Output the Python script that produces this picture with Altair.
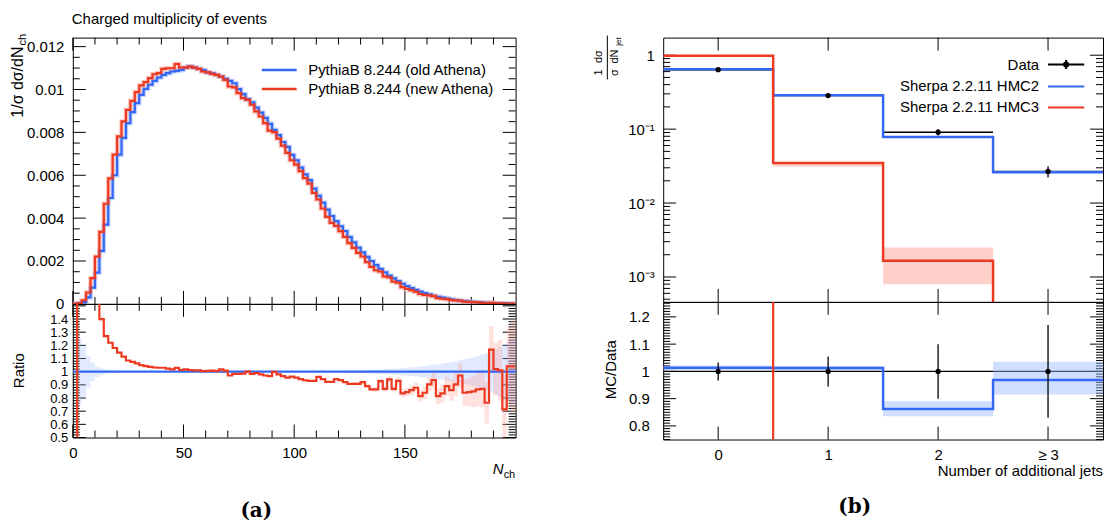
import altair as alt
import pandas as pd

FONT = "Liberation Sans"
BLUE = "#3568f2"
RED = "#ec3a22"
BLUE_L = "#9ab8ff"
RED_L = "#ffa093"

# ---------------- panel (a): charged multiplicity ----------------
LBL_OLD = "PythiaB 8.244 (old Athena)"
LBL_NEW = "PythiaB 8.244 (new Athena)"
nch_edges = list(range(0, 202, 2))  # 100 bins of width 2

old_athena = [
    0.0, 0.00002, 0.00008, 0.0003, 0.00076, 0.00146, 0.00247, 0.0037, 0.00494, 0.0060,
    0.00696, 0.00774, 0.00843, 0.00894, 0.00936, 0.00975, 0.01003, 0.01022, 0.0104, 0.01056,
    0.01068, 0.01076, 0.01084, 0.01087, 0.01091, 0.01102, 0.01107, 0.01102, 0.01096, 0.0109,
    0.0108, 0.01075, 0.01068, 0.0106, 0.0105, 0.0104, 0.01029, 0.01002, 0.00978, 0.00955,
    0.0094, 0.00915, 0.00892, 0.00868, 0.0084, 0.00812, 0.00787, 0.00755, 0.00732, 0.00695,
    0.0067, 0.00636, 0.00604, 0.00577, 0.00538, 0.00504, 0.00472, 0.0044, 0.0041, 0.00386,
    0.00362, 0.0034, 0.00312, 0.00287, 0.00262, 0.0024, 0.00219, 0.002, 0.00181, 0.00163,
    0.00147, 0.00132, 0.00119, 0.00106, 0.00094, 0.00083, 0.00074, 0.00065, 0.00057, 0.0005,
    0.00044, 0.00038, 0.00033, 0.00029, 0.00025, 0.00021, 0.00018, 0.00015, 0.00013, 0.00011,
    0.00009, 0.00008, 0.00006, 0.00005, 0.00004, 0.00003, 0.00003, 0.00002, 0.00001, 0.00001]

new_athena = [
    0.0, 0.00003, 0.00017, 0.00053, 0.0012, 0.0022, 0.00336, 0.00467, 0.00585, 0.00696,
    0.00781, 0.00851, 0.00905, 0.00947, 0.00988, 0.01019, 0.01034, 0.01053, 0.01071, 0.01076,
    0.01096, 0.01099, 0.01099, 0.01119, 0.01102, 0.01102, 0.01107, 0.01102, 0.01096, 0.01084,
    0.0108, 0.01073, 0.01068, 0.0106, 0.01045, 0.01014, 0.0101, 0.00983, 0.0096, 0.00952,
    0.00929, 0.00898, 0.00874, 0.00843, 0.00808, 0.00801, 0.00771, 0.00738, 0.00704, 0.0067,
    0.0065, 0.00619, 0.00587, 0.00561, 0.00518, 0.00487, 0.00445, 0.00406, 0.00378, 0.00364,
    0.00339, 0.00313, 0.00283, 0.00261, 0.00238, 0.00221, 0.00195, 0.00173, 0.00157, 0.00151,
    0.00128, 0.00124, 0.00104, 0.00099, 0.00078, 0.0007, 0.00064, 0.00057, 0.00046, 0.00042,
    0.0004, 0.00036, 0.00027, 0.00024, 0.00022, 0.00018, 0.00016, 0.00015, 0.00011, 0.00009,
    0.00008, 0.00007, 0.00005, 0.00004, 0.00005, 0.00003, 0.00003, 0.00001, 0.00001, 0.00001]

ratio_old = [1.0] * 100
ratio_new = [
    0.0, 3.0, 3.0, 2.3, 1.9, 1.6, 1.40, 1.27, 1.22, 1.18,
    1.145, 1.115, 1.085, 1.075, 1.063, 1.05, 1.042, 1.037, 1.032, 1.03,
    1.03, 1.024, 1.017, 1.029, 1.013, 1.017, 1.013, 1.01, 1.01, 1.005,
    1.006, 1.008, 1.005, 1.017, 1.008, 0.971, 0.983, 0.983, 0.985, 1.0,
    0.983, 0.99, 0.979, 0.971, 0.967, 0.998, 0.979, 0.967, 0.955, 0.962,
    0.955, 0.943, 0.935, 0.93, 0.93, 0.96, 0.943, 0.923, 0.923, 0.943,
    0.936, 0.921, 0.908, 0.908, 0.908, 0.921, 0.89, 0.866, 0.866, 0.928,
    0.87, 0.941, 0.87, 0.93, 0.835, 0.845, 0.86, 0.878, 0.815, 0.84,
    0.903, 0.936, 0.815, 0.835, 0.89, 0.86, 0.903, 0.971, 0.84, 0.845,
    0.85, 0.866, 0.87, 0.764, 1.168, 1.02, 1.01, 0.714, 1.04, 1.04]

band_old = [
    0.0, 0.25, 0.2, 0.12, 0.07, 0.04, 0.025, 0.015, 0.01, 0.008,
    0.006, 0.005, 0.004, 0.004, 0.004, 0.004, 0.004, 0.004, 0.004, 0.004,
    0.004, 0.004, 0.004, 0.004, 0.004, 0.004, 0.004, 0.004, 0.004, 0.004,
    0.004, 0.004, 0.004, 0.004, 0.004, 0.004, 0.004, 0.004, 0.004, 0.004,
    0.004, 0.004, 0.004, 0.004, 0.004, 0.004, 0.004, 0.004, 0.004, 0.004,
    0.004, 0.004, 0.004, 0.004, 0.004, 0.005, 0.005, 0.005, 0.005, 0.005,
    0.006, 0.007, 0.008, 0.009, 0.01, 0.011, 0.012, 0.014, 0.015, 0.017,
    0.019, 0.021, 0.023, 0.025, 0.028, 0.03, 0.033, 0.036, 0.04, 0.044,
    0.048, 0.052, 0.057, 0.062, 0.068, 0.074, 0.08, 0.087, 0.095, 0.1,
    0.11, 0.12, 0.13, 0.14, 0.15, 0.17, 0.19, 0.21, 0.23, 0.25]

band_new = [
    0.0, 0.0, 0.0, 0.0, 0.0, 0.0, 0.02, 0.015, 0.01, 0.008,
    0.006, 0.005, 0.004, 0.004, 0.004, 0.004, 0.004, 0.004, 0.004, 0.004,
    0.004, 0.004, 0.004, 0.004, 0.004, 0.004, 0.004, 0.004, 0.004, 0.004,
    0.004, 0.004, 0.004, 0.004, 0.004, 0.004, 0.004, 0.004, 0.004, 0.004,
    0.004, 0.004, 0.004, 0.004, 0.004, 0.004, 0.004, 0.004, 0.004, 0.004,
    0.005, 0.005, 0.005, 0.005, 0.005, 0.005, 0.006, 0.006, 0.006, 0.007,
    0.008, 0.009, 0.01, 0.011, 0.012, 0.013, 0.014, 0.016, 0.018, 0.02,
    0.022, 0.024, 0.026, 0.028, 0.031, 0.034, 0.037, 0.04, 0.044, 0.048,
    0.052, 0.057, 0.062, 0.068, 0.074, 0.08, 0.087, 0.095, 0.1, 0.11,
    0.12, 0.13, 0.14, 0.16, 0.18, 0.2, 0.23, 0.26, 0.3, 0.35]

# ---------------- panel (b): number of additional jets ----------------
LBL_DATA = "Data"
LBL_H2 = "Sherpa 2.2.11 HMC2"
LBL_H3 = "Sherpa 2.2.11 HMC3"
jets = [0, 1, 2, 3]
jet_edges = [-0.5, 0.5, 1.5, 2.5, 3.5]
data_b = [0.636, 0.284, 0.0908, 0.0268]
data_relerr = [0.033, 0.055, 0.10, 0.17]
hmc2 = [0.645, 0.288, 0.0783, 0.0262]
hmc2_lo = [0.640, 0.285, 0.0770, 0.0255]
hmc2_hi = [0.650, 0.291, 0.0796, 0.0270]
hmc3 = [0.98, 0.0347, 0.00166, 0.00001]
hmc3_lo = [0.97, 0.0312, 0.0008, 0.00001]
hmc3_hi = [0.99, 0.0350, 0.0025, 0.00001]
hmc2_ratio = [1.013, 1.012, 0.862, 0.968]
hmc2_ratio_lo = [1.004, 1.004, 0.835, 0.915]
hmc2_ratio_hi = [1.021, 1.020, 0.890, 1.035]
hmc3_ratio = [1.54, 0.122, 0.0183, 0.0]

# ---------------- layout ----------------
WA, HA, HAR = 444, 267, 134
WB, HB, HBR = 441, 265, 138

XA_DOM = [0, 200]
YA_DOM = [0, 0.01242]
YAR_DOM = [0.5, 1.515]
XB_DOM = [-0.5, 3.5]
YB_DOM = [10 ** -3.337, 10 ** 0.238]
YBR_DOM = [0.75, 1.255]

xa_major = [0, 50, 100, 150]
xa_minor = [v for v in range(0, 201, 10) if v % 50]
ya_major = [0, 0.002, 0.004, 0.006, 0.008, 0.010, 0.012]
ya_minor = [round(i * 0.0005, 5) for i in range(25) if i % 4]
yar_major = [0.5, 0.6, 0.7, 0.8, 0.9, 1.0, 1.1, 1.2, 1.3, 1.4, 1.5]
yar_minor = [round(0.5 + i * 0.02, 3) for i in range(51) if i % 5]
xb_major = [0, 1, 2, 3]
yb_major = [0.001, 0.01, 0.1, 1.0]
yb_minor = [m * d for d in (0.0001, 0.001, 0.01, 0.1) for m in range(2, 10)
            if YB_DOM[0] <= m * d <= YB_DOM[1]]
ybr_major = [0.8, 0.9, 1.0, 1.1, 1.2]
ybr_minor = [round(0.75 + i * 0.01, 3) for i in range(51)
             if round(0.75 + i * 0.01, 3) not in ybr_major]

xs_a = alt.Scale(domain=XA_DOM, nice=False, zero=False)
ys_a = alt.Scale(domain=YA_DOM, nice=False, zero=False)
ys_ar = alt.Scale(domain=YAR_DOM, nice=False, zero=False)
xs_b = alt.Scale(domain=XB_DOM, nice=False, zero=False)
ys_b = alt.Scale(type="log", domain=YB_DOM, nice=False)
ys_br = alt.Scale(domain=YBR_DOM, nice=False, zero=False)


def lab_ax(orient, values, pad, fmt=None, expr=None, size=15):
    kw = dict(orient=orient, values=values, ticks=False, tickSize=0, domain=False,
              grid=False, title=None, labelFont=FONT, labelFontSize=size,
              labelColor="#000", labelPadding=pad, labelOverlap=False,
              labelFlush=False, labelBound=False)
    if fmt:
        kw["format"] = fmt
    if expr:
        kw["labelExpr"] = expr
    return alt.Axis(**kw)


def tick_rules(xs, ys, W, H, xvals, yvals, size):
    out = []
    if xvals:
        dfx = pd.DataFrame({"v": xvals})
        for y0, y1 in ((H, H - size), (0, size)):
            out.append(alt.Chart(dfx).mark_rule(color="#000", strokeWidth=1).encode(
                x=alt.X("v:Q", scale=xs, axis=None), y=alt.value(y0), y2=alt.value(y1)))
    if yvals:
        dfy = pd.DataFrame({"v": yvals})
        for x0, x1 in ((0, size), (W - size, W)):
            out.append(alt.Chart(dfy).mark_rule(color="#000", strokeWidth=1).encode(
                y=alt.Y("v:Q", scale=ys, axis=None), x=alt.value(x0), x2=alt.value(x1)))
    return out


def frame(xs, ys, xdom, ydom, W, H, xmaj, xmin, ymaj, ymin, xlab, ylab):
    base = pd.DataFrame({"x": [xdom[0]], "y": [ydom[0]]})
    carrier = alt.Chart(base).mark_point(opacity=0).encode(
        x=alt.X("x:Q", scale=xs, axis=xlab), y=alt.Y("y:Q", scale=ys, axis=ylab))
    return [carrier] + tick_rules(xs, ys, W, H, xmaj, ymaj, 13) + \
        tick_rules(xs, ys, W, H, xmin, ymin, 7)


def txt(s, x, y, size=15, angle=0, align="center", baseline="middle",
        font=FONT, style="normal", weight="normal", opacity=1.0):
    return alt.Chart(pd.DataFrame({"t": [s]})).mark_text(
        font=font, fontSize=size, angle=angle, align=align, baseline=baseline,
        fontStyle=style, fontWeight=weight, color="#000", opacity=opacity).encode(
        text="t:N", x=alt.value(x), y=alt.value(y))


def ext(v):
    return list(v) + [v[-1]]


def hist_line(df, xs, ys, color=None, width=2.2, opacity=1.0, legend=None, cscale=None):
    enc = dict(x=alt.X("x:Q", scale=xs, axis=None), y=alt.Y("y:Q", scale=ys, axis=None))
    if cscale is not None:
        enc["color"] = alt.Color("s:N", scale=cscale, legend=legend)
    mk = dict(interpolate="step-after", strokeWidth=width, clip=True, opacity=opacity)
    if color:
        mk["color"] = color
    return alt.Chart(df).mark_line(**mk).encode(**enc)


def band(df, xs, ys, lo, hi, color, opacity=0.35):
    return alt.Chart(df).mark_area(interpolate="step-after", clip=True, color=color,
                                   opacity=opacity).encode(
        x=alt.X("x:Q", scale=xs, axis=None),
        y=alt.Y(f"{lo}:Q", scale=ys, axis=None), y2=f"{hi}:Q")


# ----- (a) main -----
leg_a = alt.Legend(title=None, orient="none", legendX=188, legendY=25,
                   symbolType="stroke", symbolSize=1225, symbolStrokeWidth=2.5,
                   clipHeight=15, rowPadding=3, labelOffset=10, labelFont=FONT,
                   labelFontSize=15, labelColor="#000", labelLimit=400, padding=0)
col_a_scale = alt.Scale(domain=[LBL_OLD, LBL_NEW], range=[BLUE, RED])
df_old = pd.DataFrame({"x": nch_edges, "y": ext(old_athena), "s": LBL_OLD})
df_new = pd.DataFrame({"x": nch_edges, "y": ext(new_athena), "s": LBL_NEW})

a_main = alt.layer(
    *frame(xs_a, ys_a, XA_DOM, YA_DOM, WA, HA, xa_major, xa_minor, ya_major, ya_minor,
           None, lab_ax("left", ya_major, 9, fmt=".3~f")),
    hist_line(df_old, xs_a, ys_a, color=BLUE_L, width=4.5, opacity=0.6),
    hist_line(df_new, xs_a, ys_a, color=RED_L, width=4.5, opacity=0.6),
    hist_line(df_old, xs_a, ys_a, legend=leg_a, cscale=col_a_scale),
    hist_line(df_new, xs_a, ys_a, legend=leg_a, cscale=col_a_scale),
    txt("Charged multiplicity of events", -1, -14, align="left", baseline="alphabetic"),
    txt("1/σ dσ/dN", -55, 9, size=16, angle=270, align="right"),
    txt("ch", -50, 8, size=11, angle=270, align="left"),
).resolve_axis(x="independent", y="independent").properties(width=WA, height=HA)

# ----- (a) ratio -----
df_ra = pd.DataFrame({
    "x": nch_edges,
    "lo_old": [r - b for r, b in zip(ext(ratio_old), ext(band_old))],
    "hi_old": [r + b for r, b in zip(ext(ratio_old), ext(band_old))],
    "lo_new": [r - b for r, b in zip(ext(ratio_new), ext(band_new))],
    "hi_new": [r + b for r, b in zip(ext(ratio_new), ext(band_new))],
})
df_rold = pd.DataFrame({"x": nch_edges, "y": ext(ratio_old)})
df_rnew = pd.DataFrame({"x": nch_edges, "y": ext(ratio_new)})

a_ratio = alt.layer(
    *frame(xs_a, ys_ar, XA_DOM, YAR_DOM, WA, HAR, xa_major, xa_minor, yar_major, yar_minor,
           lab_ax("bottom", [0, 50, 100, 150], 8, fmt="d"),
           lab_ax("left", yar_major[:-1], 5, fmt=".1~f", size=13)),
    band(df_ra, xs_a, ys_ar, "lo_old", "hi_old", BLUE_L, 0.3),
    band(df_ra, xs_a, ys_ar, "lo_new", "hi_new", RED_L, 0.3),
    hist_line(df_rold, xs_a, ys_ar, color=BLUE, width=2.2),
    hist_line(df_rnew, xs_a, ys_ar, color=RED, width=2.2),
    txt("Ratio", -54, 67, angle=270),
    txt("N", 421, 171, style="italic", align="left", baseline="alphabetic"),
    txt("ch", 432, 175, size=11, align="left", baseline="alphabetic"),
    txt("(a)", 184, 214, size=20, font="DejaVu Serif", weight="bold", baseline="alphabetic"),
).resolve_axis(x="independent", y="independent").properties(width=WA, height=HAR)

# ----- (b) main -----
DATA_PATH = ("M-2.6,0H2.6M0,-0.65V0.65M-0.3,0A0.3,0.3,0,1,1,0.3,0"
             "A0.3,0.3,0,1,1,-0.3,0Z")
LINE_PATH = "M-2.6,0H2.6"
leg_b = alt.Legend(title=None, orient="none", legendX=396, legendY=19,
                   symbolSize=196, rowPadding=5, labelAlign="right",
                   labelOffset={"expr": "-35"}, labelFont=FONT, labelFontSize=15,
                   labelColor="#000", labelLimit=400, symbolStrokeWidth=2, padding=0)
lab_b = [LBL_DATA, LBL_H2, LBL_H3]

df_h2 = pd.DataFrame({"x": jet_edges, "y": ext(hmc2)})
df_h3 = pd.DataFrame({"x": jet_edges, "y": ext(hmc3)})
df_bb = pd.DataFrame({"x": jet_edges, "lo2": ext(hmc2_lo), "hi2": ext(hmc2_hi),
                      "lo3": ext(hmc3_lo), "hi3": ext(hmc3_hi)})
df_data = pd.DataFrame({
    "x": jets, "x0": jet_edges[:-1], "x1": jet_edges[1:], "y": data_b,
    "lo": [v * (1 - e) for v, e in zip(data_b, data_relerr)],
    "hi": [v * (1 + e) for v, e in zip(data_b, data_relerr)]})
df_leg = pd.DataFrame({"x": [10, 10, 10], "y": [0.1, 0.1, 0.1], "sb": lab_b})


def data_hbars(df, xs, ys):
    return alt.Chart(df).mark_rule(color="#000", strokeWidth=1.3, clip=True).encode(
        x=alt.X("x0:Q", scale=xs, axis=None), x2="x1:Q",
        y=alt.Y("y:Q", scale=ys, axis=None))


def data_points(df, xs, ys):
    return [
        alt.Chart(df).mark_rule(color="#000", strokeWidth=1.3, clip=True).encode(
            x=alt.X("x:Q", scale=xs, axis=None),
            y=alt.Y("lo:Q", scale=ys, axis=None), y2="hi:Q"),
        alt.Chart(df).mark_circle(color="#000", size=28, opacity=1, clip=True).encode(
            x=alt.X("x:Q", scale=xs, axis=None), y=alt.Y("y:Q", scale=ys, axis=None)),
    ]


b_main = alt.layer(
    *frame(xs_b, ys_b, XB_DOM, YB_DOM, WB, HB, xb_major, [], yb_major, yb_minor,
           None, lab_ax("left", yb_major, 9,
                        expr="datum.value > 0.5 ? '1' : datum.value > 0.05 ? '10⁻¹' : "
                             "datum.value > 0.005 ? '10⁻²' : '10⁻³'")),
    data_hbars(df_data, xs_b, ys_b),
    band(df_bb, xs_b, ys_b, "lo3", "hi3", RED_L, 0.5),
    band(df_bb, xs_b, ys_b, "lo2", "hi2", BLUE_L, 0.5),
    hist_line(df_h2, xs_b, ys_b, color=BLUE, width=2.5),
    hist_line(df_h3, xs_b, ys_b, color=RED, width=2.5),
    *data_points(df_data, xs_b, ys_b),
    alt.Chart(df_leg).mark_point(filled=False, opacity=1, strokeWidth=2, clip=True).encode(
        x=alt.X("x:Q", scale=xs_b, axis=None), y=alt.Y("y:Q", scale=ys_b, axis=None),
        color=alt.Color("sb:N", scale=alt.Scale(domain=lab_b, range=["#000", BLUE, RED]),
                        legend=leg_b),
        shape=alt.Shape("sb:N", scale=alt.Scale(domain=lab_b,
                                                range=[DATA_PATH, LINE_PATH, LINE_PATH]),
                        legend=leg_b)),
    txt("Charged multiplicity of events", 0, -18, align="left", baseline="alphabetic",
        opacity=0.0),
    txt("1", -64, 35, size=11, angle=270),
    txt("dσ", -64, 19, size=11, angle=270),
    txt("σ", -48, 35, size=11, angle=270),
    txt("dN", -48, 19, size=11, angle=270),
    txt("jet", -44, 4, size=8, angle=270),
    alt.Chart(pd.DataFrame({"a": [0]})).mark_rule(color="#000", strokeWidth=1).encode(
        x=alt.value(-56), y=alt.value(-2), y2=alt.value(42)),
).resolve_axis(x="independent", y="independent").properties(width=WB, height=HB)

# ----- (b) ratio -----
df_h2r = pd.DataFrame({"x": jet_edges, "y": ext(hmc2_ratio)})
df_h3r = pd.DataFrame({"x": jet_edges, "y": ext(hmc3_ratio)})
df_bbr = pd.DataFrame({"x": jet_edges, "lo": ext(hmc2_ratio_lo), "hi": ext(hmc2_ratio_hi)})
df_datar = pd.DataFrame({
    "x": jets, "x0": jet_edges[:-1], "x1": jet_edges[1:], "y": [1.0] * 4,
    "lo": [1 - e for e in data_relerr], "hi": [1 + e for e in data_relerr]})

b_ratio = alt.layer(
    *frame(xs_b, ys_br, XB_DOM, YBR_DOM, WB, HBR, xb_major, [], ybr_major, ybr_minor,
           lab_ax("bottom", xb_major, 8, fmt="d",
                  expr="datum.value == 3 ? '≥ 3' : datum.label"),
           lab_ax("left", ybr_major, 14, fmt=".1~f")),
    data_hbars(df_datar, xs_b, ys_br),
    band(df_bbr, xs_b, ys_br, "lo", "hi", BLUE_L, 0.45),
    hist_line(df_h2r, xs_b, ys_br, color=BLUE, width=2.5),
    hist_line(df_h3r, xs_b, ys_br, color=RED, width=2.2),
    *data_points(df_datar, xs_b, ys_br),
    txt("MC/Data", -52, 68, angle=270),
    txt("Number of additional jets", WB, 175, align="right", baseline="alphabetic"),
    txt("(b)", 192, 212, size=20, font="DejaVu Serif", weight="bold", baseline="alphabetic"),
).resolve_axis(x="independent", y="independent").properties(width=WB, height=HBR)

col_a = alt.vconcat(a_main, a_ratio, spacing=0, bounds="flush")
col_b = alt.vconcat(b_main, b_ratio, spacing=0, bounds="flush")

chart = alt.hconcat(col_a, col_b, spacing=76).resolve_scale(
    color="independent", shape="independent"
).resolve_legend(color="independent", shape="independent").properties(
    padding={"left": 9, "top": 6, "right": 2, "bottom": 2},
    background="white",
).configure_view(stroke="#000", strokeWidth=1)

chart.save("out.html", embed_options={"renderer": "svg", "actions": False})
